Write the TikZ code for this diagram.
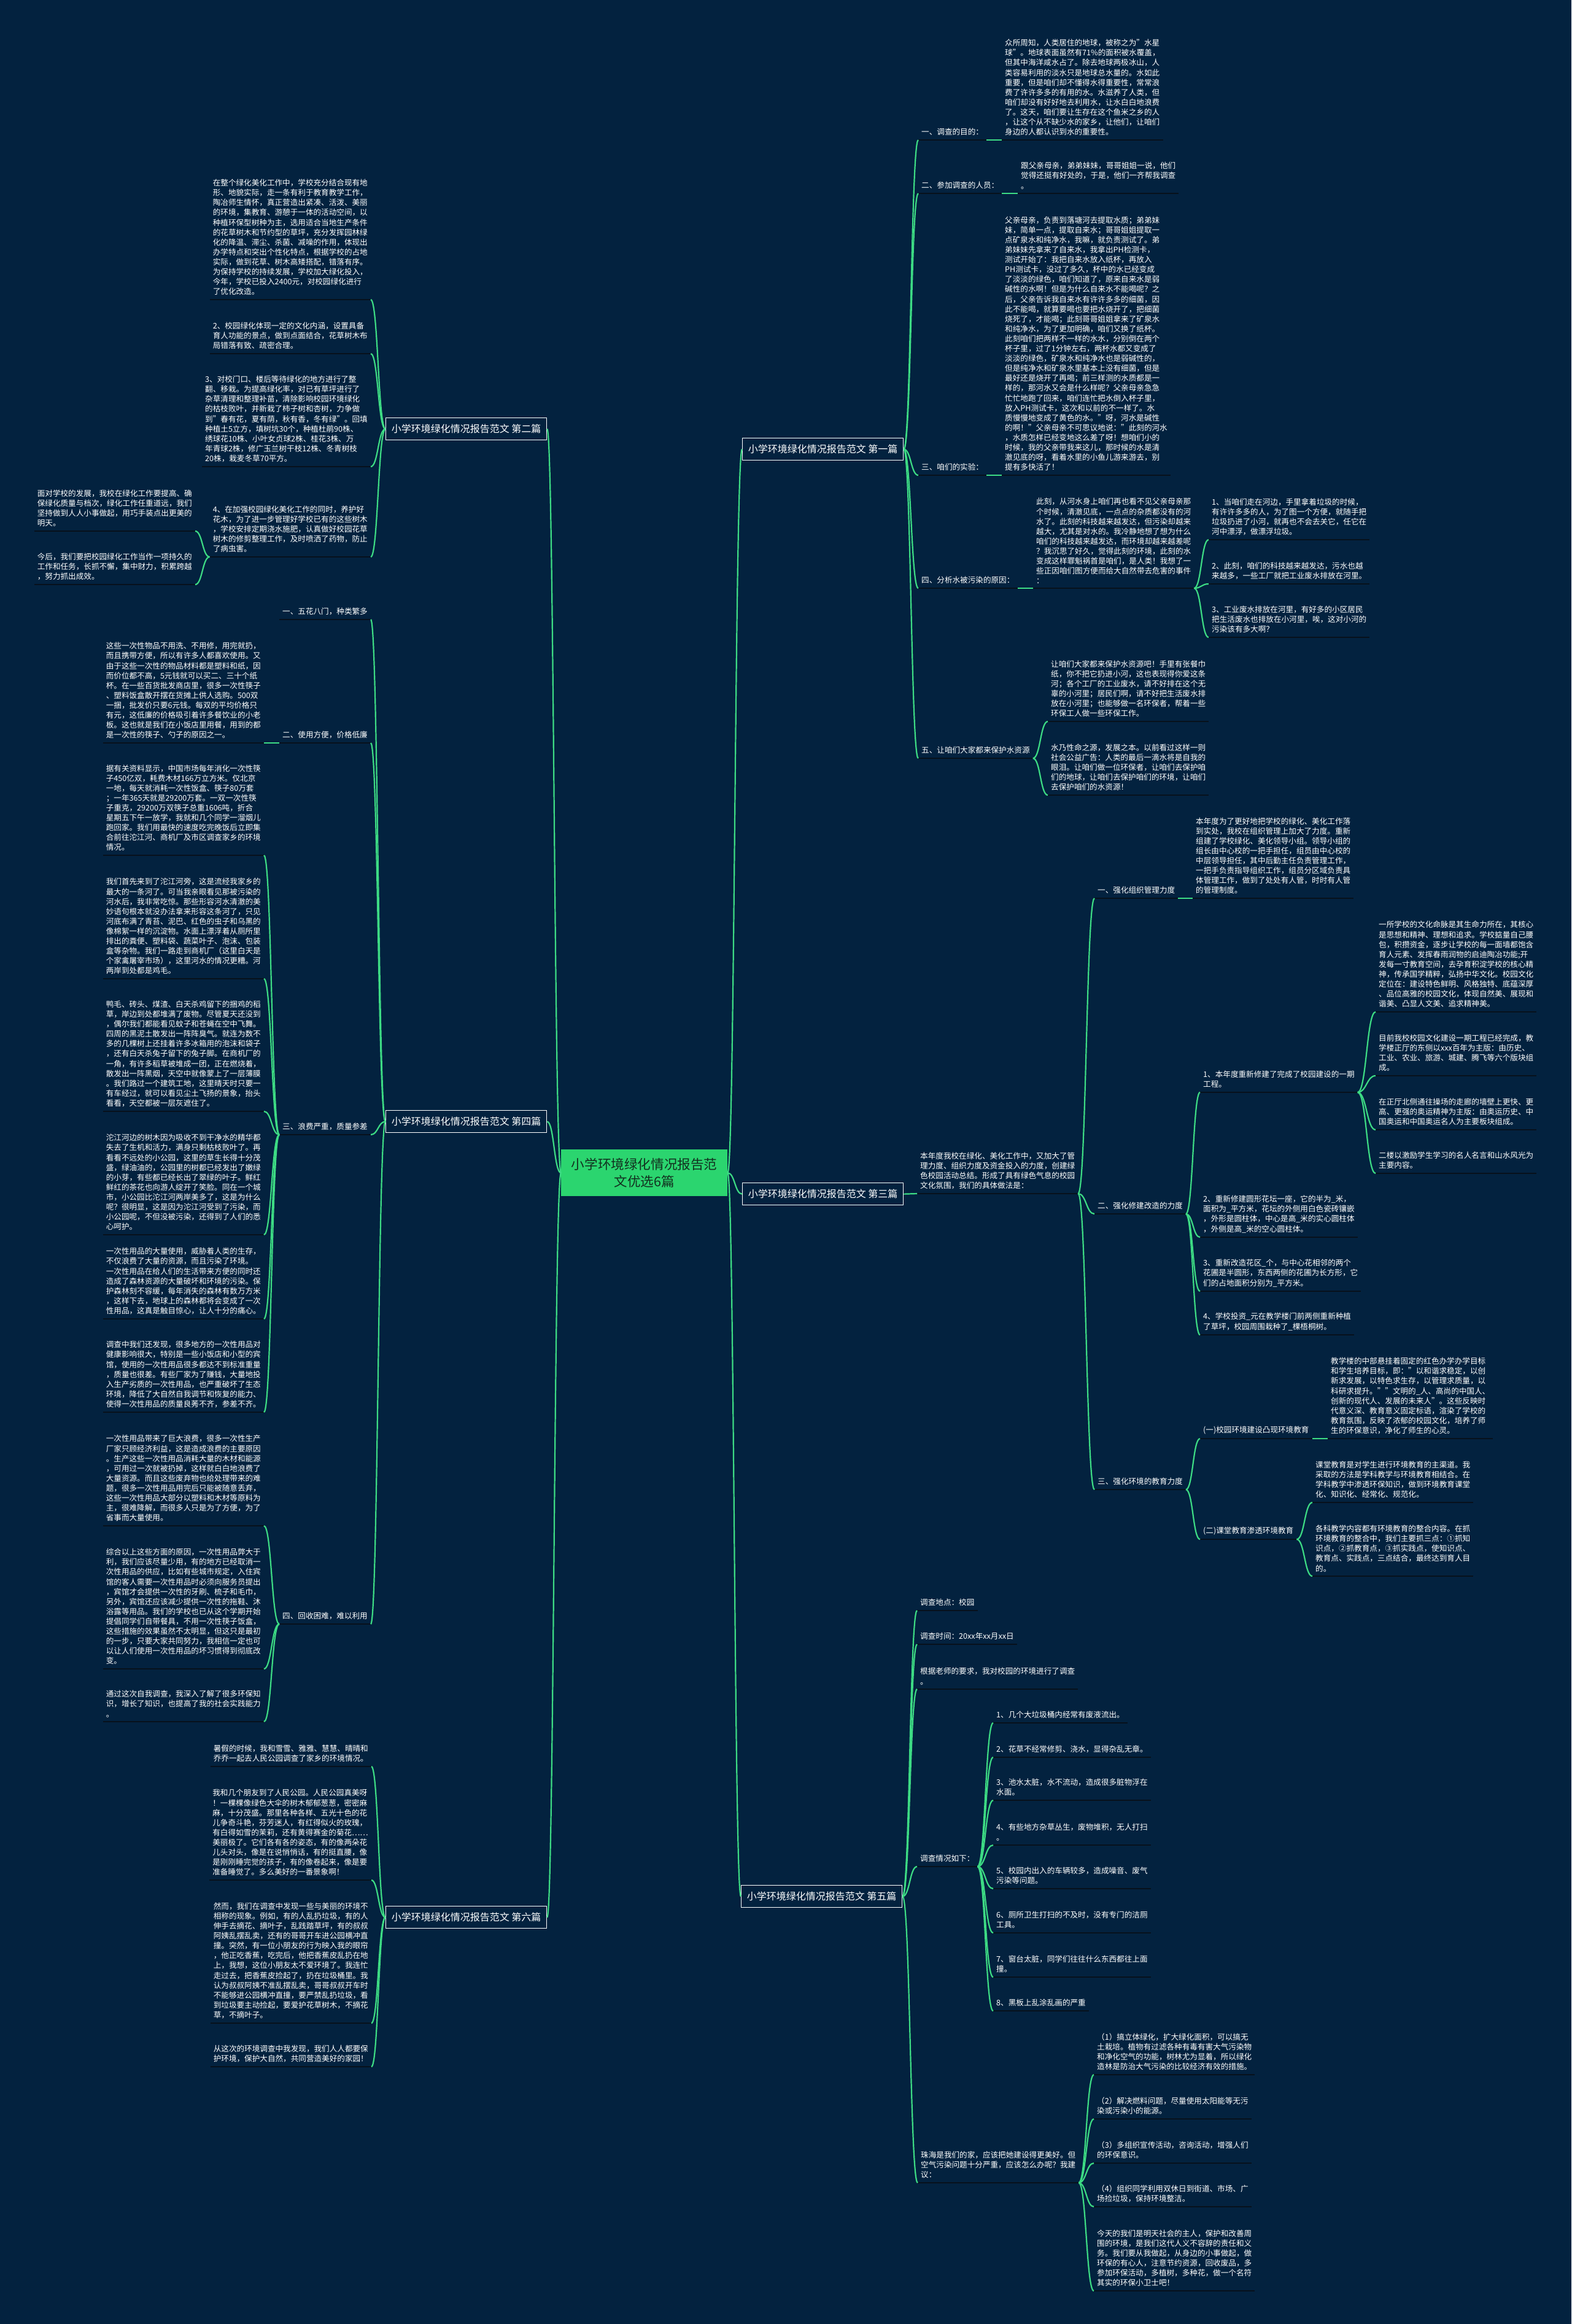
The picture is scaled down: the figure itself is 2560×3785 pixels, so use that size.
\documentclass[tikz,border=0pt]{standalone}
\usepackage{fontspec}
\setmainfont{Noto Sans CJK SC}
\usetikzlibrary{calc}
\definecolor{bg}{HTML}{03223F}
\definecolor{lg}{HTML}{3DDB84}
\definecolor{ul}{HTML}{07111C}
\definecolor{cg}{HTML}{2BD56F}
\definecolor{ct}{HTML}{12301F}
\newcommand\fs{\fontsize{12.6}{16.1}\selectfont}
\newcommand\fbr{\fontsize{16}{19}\selectfont}
\newcommand\fct{\fontsize{21.6}{28}\selectfont}
\newcommand\lnk[2]{\draw[conn] let \p1=(#1), \p2=(#2) in (\p1) .. controls ({(\x1+\x2)/2},\y1) and ({(\x1+\x2)/2},\y2) .. (\p2);}
\begin{document}
\begin{tikzpicture}[x=1pt,y=-1pt,
  conn/.style={draw=lg, line width=2.2pt},
  uline/.style={draw=ul, line width=2.5pt},
  leaf/.style={text=white, font=\fs, align=left, inner xsep=5pt, inner ysep=7pt,
    append after command={(\tikzlastnode.south west) edge[uline] (\tikzlastnode.south east)}},
  rl/.style={leaf, anchor=south west},
  ll/.style={leaf, anchor=south east},
  branch/.style={draw=white, line width=1.3pt, fill=bg, text=white, font=\fbr,
    minimum width=262pt, minimum height=36pt, inner sep=0pt, anchor=north west},
  root/.style={fill=cg, text=ct, font=\fct, align=center, minimum width=271pt,
    minimum height=76pt, inner sep=0pt, anchor=north west}]
\fill[bg] (0,0) rectangle (2560,3785);
\useasboundingbox (0,0) rectangle (2560,3785);

% ---------- root and branches ----------
\node[root] (root) at (914,1872) {小学环境绿化情况报告范\\文优选6篇};
\node[branch] (b1) at (1209,713) {小学环境绿化情况报告范文 第一篇};
\node[branch] (b2) at (628,680) {小学环境绿化情况报告范文 第二篇};
\node[branch] (b3) at (1209,1926) {小学环境绿化情况报告范文 第三篇};
\node[branch] (b4) at (628,1808) {小学环境绿化情况报告范文 第四篇};
\node[branch] (b5) at (1207,3070) {小学环境绿化情况报告范文 第五篇};
\node[branch] (b6) at (628,3104) {小学环境绿化情况报告范文 第六篇};

% ---------- 第一篇 ----------
\node[rl] (a1) at (1496,228) {一、调查的目的：};
\node[rl] (a1p) at (1632,228) {众所周知，人类居住的地球，被称之为"水星\\
球"。地球表面虽然有71\%的面积被水覆盖，\\
但其中海洋咸水占了。除去地球两极冰山，人\\
类容易利用的淡水只是地球总水量的。水如此\\
重要，但是咱们却不懂得水得重要性，常常浪\\
费了许许多多的有用的水。水滋养了人类，但\\
咱们却没有好好地去利用水，让水白白地浪费\\
了。这天，咱们要让生存在这个鱼米之乡的人\\
，让这个从不缺少水的家乡，让他们，让咱们\\
身边的人都认识到水的重要性。};
\node[rl] (a2) at (1496,315) {二、参加调查的人员：};
\node[rl] (a2p) at (1658,315) {跟父亲母亲，弟弟妹妹，哥哥姐姐一说，他们\\
觉得还挺有好处的，于是，他们一齐帮我调查\\
。};
\node[rl] (a3) at (1496,774) {三、咱们的实验：};
\node[rl] (a3p) at (1632,774) {父亲母亲，负责到落塘河去提取水质；弟弟妹\\
妹，简单一点，提取自来水；哥哥姐姐提取一\\
点矿泉水和纯净水，我嘛，就负责测试了。弟\\
弟妹妹先拿来了自来水，我拿出PH检测卡，\\
测试开始了：我把自来水放入纸杯，再放入\\
PH测试卡，没过了多久，杯中的水已经变成\\
了淡淡的绿色，咱们知道了，原来自来水是弱\\
碱性的水啊！但是为什么自来水不能喝呢？之\\
后，父亲告诉我自来水有许许多多的细菌，因\\
此不能喝，就算要喝也要把水烧开了，把细菌\\
烧死了，才能喝；此刻哥哥姐姐拿来了矿泉水\\
和纯净水，为了更加明确，咱们又换了纸杯。\\
此刻咱们把两样不一样的水水，分别倒在两个\\
杯子里，过了1分钟左右，两杯水都又变成了\\
淡淡的绿色，矿泉水和纯净水也是弱碱性的，\\
但是纯净水和矿泉水里基本上没有细菌，但是\\
最好还是烧开了再喝；前三样测的水质都是一\\
样的，那河水又会是什么样呢？父亲母亲急急\\
忙忙地跑了回来，咱们连忙把水倒入杯子里，\\
放入PH测试卡，这次和以前的不一样了。水\\
质慢慢地变成了黄色的水。"呀，河水是碱性\\
的啊！"父亲母亲不可思议地说："此刻的河水\\
，水质怎样已经变地这么差了呀！想咱们小的\\
时候，我的父亲带我来这儿，那时候的水是清\\
澈见底的呀，看着水里的小鱼儿游来游去，别\\
提有多快活了！};
\node[rl] (a4) at (1496,958) {四、分析水被污染的原因：};
\node[rl] (a4p) at (1683,958) {此刻，从河水身上咱们再也看不见父亲母亲那\\
个时候，清澈见底，一点点的杂质都没有的河\\
水了。此刻的科技越来越发达，但污染却越来\\
越大，尤其是对水的。我冷静地想了想为什么\\
咱们的科技越来越发达，而环境却越来越差呢\\
？我沉思了好久，觉得此刻的环境，此刻的水\\
变成这样罪魁祸首是咱们，是人类！我想了一\\
些正因咱们图方便而给大自然带去危害的事件\\
：};
\node[rl] (a4a) at (1969,879) {1、当咱们走在河边，手里拿着垃圾的时候，\\
有许许多多的人，为了图一个方便，就随手把\\
垃圾扔进了小河，就再也不会去关它，任它在\\
河中漂浮，做漂浮垃圾。};
\node[rl] (a4b) at (1969,951) {2、此刻，咱们的科技越来越发达，污水也越\\
来越多，一些工厂就把工业废水排放在河里。};
\node[rl] (a4c) at (1969,1038) {3、工业废水排放在河里，有好多的小区居民\\
把生活废水也排放在小河里，唉，这对小河的\\
污染该有多大啊？};
\node[rl] (a5) at (1496,1235) {五、让咱们大家都来保护水资源};
\node[rl] (a5a) at (1707,1175) {让咱们大家都来保护水资源吧！手里有张餐巾\\
纸，你不把它扔进小河，这也表现得你爱这条\\
河；各个工厂的工业废水，请不好排在这个无\\
辜的小河里；居民们啊，请不好把生活废水排\\
放在小河里；也能够做一名环保者，帮着一些\\
环保工人做一些环保工作。};
\node[rl] (a5b) at (1707,1295) {水乃性命之源，发展之本。以前看过这样一则\\
社会公益广告：人类的最后一滴水将是自我的\\
眼泪。让咱们做一位环保者，让咱们去保护咱\\
们的地球，让咱们去保护咱们的环境，让咱们\\
去保护咱们的水资源！};

% ---------- 第三篇 ----------
\node[rl] (c0) at (1494,1944) {本年度我校在绿化、美化工作中，又加大了管\\
理力度、组织力度及资金投入的力度，创建绿\\
色校园活动总结。形成了具有绿色气息的校园\\
文化氛围，我们的具体做法是：};
\node[rl] (c1) at (1783,1463) {一、强化组织管理力度};
\node[rl] (c1p) at (1943,1463) {本年度为了更好地把学校的绿化、美化工作落\\
到实处，我校在组织管理上加大了力度。重新\\
组建了学校绿化、美化领导小组。领导小组的\\
组长由中心校的一把手担任，组员由中心校的\\
中层领导担任，其中后勤主任负责管理工作，\\
一把手负责指导组织工作，组员分区域负责具\\
体管理工作，做到了处处有人管，时时有人管\\
的管理制度。};
\node[rl] (c2) at (1783,1977) {二、强化修建改造的力度};
\node[rl] (c21) at (1955,1779) {1、本年度重新修建了完成了校园建设的一期\\
工程。};
\node[rl] (c21a) at (2241,1648) {一所学校的文化命脉是其生命力所在，其核心\\
是思想和精神、理想和追求。学校掂量自己腰\\
包，积攒资金，逐步让学校的每一面墙都饱含\\
育人元素、发挥春雨润物的启迪陶冶功能;开\\
发每一寸教育空间，去孕育积淀学校的核心精\\
神，传承国学精粹，弘扬中华文化。校园文化\\
定位在：建设特色鲜明、风格独特、底蕴深厚\\
、品位高雅的校园文化，体现自然美、展现和\\
谐美、凸显人文美、追求精神美。};
\node[rl] (c21b) at (2241,1752) {目前我校校园文化建设一期工程已经完成，教\\
学楼正厅的东侧以xxx百年为主版：由历史、\\
工业、农业、旅游、城建、腾飞等六个版块组\\
成。};
\node[rl] (c21c) at (2241,1840) {在正厅北侧通往操场的走廊的墙壁上更快、更\\
高、更强的奥运精神为主版：由奥运历史、中\\
国奥运和中国奥运名人为主要板块组成。};
\node[rl] (c21d) at (2241,1911) {二楼以激励学生学习的名人名言和山水风光为\\
主要内容。};
\node[rl] (c22) at (1955,2015) {2、重新修建圆形花坛一座，它的半为\_米，\\
面积为\_平方米，花坛的外侧用白色瓷砖镶嵌\\
，外形是圆柱体，中心是高\_米的实心圆柱体\\
，外侧是高\_米的空心圆柱体。};
\node[rl] (c23) at (1955,2103) {3、重新改造花区\_个，与中心花相邻的两个\\
花圃是半圆形，东西两侧的花圃为长方形，它\\
们的占地面积分别为\_平方米。};
\node[rl] (c24) at (1955,2174) {4、学校投资\_元在教学楼门前两侧重新种植\\
了草坪，校园周围栽种了\_棵梧桐树。};
\node[rl] (c3) at (1783,2426) {三、强化环境的教育力度};
\node[rl] (c31) at (1955,2343) {(一)校园环境建设凸现环境教育};
\node[rl] (c31p) at (2163,2343) {教学楼的中部悬挂着固定的红色办学办学目标\\
和学生培养目标，即："以和谐求稳定，以创\\
新求发展，以特色求生存，以管理求质量，以\\
科研求提升。""文明的\_人、高尚的中国人、\\
创新的现代人、发展的未来人"。这些反映时\\
代意义深、教育意义固定标语，渲染了学校的\\
教育氛围，反映了浓郁的校园文化，培养了师\\
生的环保意识，净化了师生的心灵。};
\node[rl] (c32) at (1955,2507) {(二)课堂教育渗透环境教育};
\node[rl] (c32a) at (2138,2447) {课堂教育是对学生进行环境教育的主渠道。我\\
采取的方法是学科教学与环境教育相结合。在\\
学科教学中渗透环保知识，做到环境教育课堂\\
化、知识化、经常化、规范化。};
\node[rl] (c32b) at (2138,2567) {各科教学内容都有环境教育的整合内容。在抓\\
环境教育的整合中，我们主要抓三点：①抓知\\
识点，②抓教育点，③抓实践点，使知识点、\\
教育点、实践点，三点结合，最终达到育人目\\
的。};

% ---------- 第五篇 ----------
\node[rl] (e1) at (1494,2623) {调查地点：校园};
\node[rl] (e2) at (1494,2678) {调查时间：20xx年xx月xx日};
\node[rl] (e3) at (1494,2751) {根据老师的要求，我对校园的环境进行了调查\\
。};
\node[rl] (e4) at (1494,3040) {调查情况如下：};
\node[rl] (e41) at (1618,2806) {1、几个大垃圾桶内经常有废液流出。};
\node[rl] (e42) at (1618,2862) {2、花草不经常修剪、浇水，显得杂乱无章。};
\node[rl] (e43) at (1618,2932) {3、池水太脏，水不流动，造成很多脏物浮在\\
水面。};
\node[rl] (e44) at (1618,3005) {4、有些地方杂草丛生，废物堆积，无人打扫\\
。};
\node[rl] (e45) at (1618,3076) {5、校园内出入的车辆较多，造成噪音、废气\\
污染等问题。};
\node[rl] (e46) at (1618,3148) {6、厕所卫生打扫的不及时，没有专门的洁厕\\
工具。};
\node[rl] (e47) at (1618,3220) {7、窗台太脏，同学们往往什么东西都往上面\\
撞。};
\node[rl] (e48) at (1618,3275) {8、黑板上乱涂乱画的严重};
\node[rl] (e5) at (1495,3555) {珠海是我们的家，应该把她建设得更美好。但\\
空气污染问题十分严重，应该怎么办呢？我建\\
议：};
\node[rl] (e51) at (1782,3379) {（1）搞立体绿化，扩大绿化面积，可以搞无\\
土栽培。植物有过滤各种有毒有害大气污染物\\
和净化空气的功能，树林尤为显着，所以绿化\\
造林是防治大气污染的比较经济有效的措施。};
\node[rl] (e52) at (1782,3451) {（2）解决燃料问题，尽量使用太阳能等无污\\
染或污染小的能源。};
\node[rl] (e53) at (1782,3523) {（3）多组织宣传活动，咨询活动，增强人们\\
的环保意识。};
\node[rl] (e54) at (1782,3594) {（4）组织同学利用双休日到街道、市场、广\\
场捡垃圾，保持环境整洁。};
\node[rl] (e55) at (1782,3731) {今天的我们是明天社会的主人，保护和改善周\\
围的环境，是我们这代人义不容辞的责任和义\\
务。我们要从我做起，从身边的小事做起，做\\
环保的有心人，注意节约资源，回收废品，多\\
参加环保活动，多植树，多种花，做一个名符\\
其实的环保小卫士吧！};

% ---------- 第二篇 ----------
\node[ll] (d1) at (604,488) {在整个绿化美化工作中，学校充分结合现有地\\
形、地貌实际，走一条有利于教育教学工作，\\
陶冶师生情怀，真正营造出紧凑、活泼、美丽\\
的环境，集教育、游憩于一体的活动空间，以\\
种植环保型树种为主，选用适合当地生产条件\\
的花草树木和节约型的草坪，充分发挥园林绿\\
化的降温、滞尘、杀菌、减噪的作用，体现出\\
办学特点和突出个性化特点，根据学校的占地\\
实际，做到花草、树木高矮搭配，错落有序。\\
为保持学校的持续发展，学校加大绿化投入，\\
今年，学校已投入2400元，对校园绿化进行\\
了优化改造。};
\node[ll] (d2) at (604,576) {2、校园绿化体现一定的文化内涵，设置具备\\
育人功能的景点，做到点面结合，花草树木布\\
局错落有致、疏密合理。};
\node[ll] (d3) at (604,760) {3、对校门口、楼后等待绿化的地方进行了整\\
翻、移栽。为提高绿化率，对已有草坪进行了\\
杂草清理和整理补苗，清除影响校园环境绿化\\
的枯枝败叶，并新栽了柿子树和杏树，力争做\\
到"春有花，夏有荫，秋有香，冬有绿"。回填\\
种植土5立方，填树坑30个，种植杜鹃90株、\\
绣球花10株、小叶女贞球2株、桂花3株、万\\
年青球2株，修广玉兰树干枝12株、冬青树枝\\
20株，栽麦冬草70平方。};
\node[ll] (d4) at (604,907) {4、在加强校园绿化美化工作的同时，养护好\\
花木，为了进一步管理好学校已有的这些树木\\
，学校安排定期浇水施肥，认真做好校园花草\\
树木的修剪整理工作，及时喷洒了药物，防止\\
了病虫害。};
\node[ll] (d41) at (318,865) {面对学校的发展，我校在绿化工作要提高、确\\
保绿化质量与档次，绿化工作任重道远，我们\\
坚持做到人人小事做起，用巧手装点出更美的\\
明天。};
\node[ll] (d42) at (318,952) {今后，我们要把校园绿化工作当作一项持久的\\
工作和任务，长抓不懈，集中财力，积累跨越\\
，努力抓出成效。};

% ---------- 第四篇 ----------
\node[ll] (f1) at (604,1009) {一、五花八门，种类繁多};
\node[ll] (f2) at (604,1210) {二、使用方便，价格低廉};
\node[ll] (f3) at (604,1848) {三、浪费严重，质量参差};
\node[ll] (f4) at (604,2645) {四、回收困难，难以利用};
\node[ll] (f2p) at (430,1210) {这些一次性物品不用洗、不用修，用完就扔，\\
而且携带方便，所以有许多人都喜欢使用。又\\
由于这些一次性的物品材料都是塑料和纸，因\\
而价位都不高，5元钱就可以买二、三十个纸\\
杯。在一些百货批发商店里，很多一次性筷子\\
、塑料饭盒散开摆在货摊上供人选购。500双\\
一捆，批发价只要6元钱。每双的平均价格只\\
有元，这低廉的价格吸引着许多餐饮业的小老\\
板。这也就是我们在小饭店里用餐，用到的都\\
是一次性的筷子、勺子的原因之一。};
\node[ll] (f31) at (430,1393) {据有关资料显示，中国市场每年消化一次性筷\\
子450亿双，耗费木材166万立方米。仅北京\\
一地，每天就消耗一次性饭盒、筷子80万套\\
；一年365天就是29200万套。一双一次性筷\\
子重克，29200万双筷子总重1606吨，折合\\
星期五下午一放学，我就和几个同学一溜烟儿\\
跑回家。我们用最快的速度吃完晚饭后立即集\\
合前往沱江河、商机厂及市区调查家乡的环境\\
情况。};
\node[ll] (f32) at (430,1594) {我们首先来到了沱江河旁，这是流经我家乡的\\
最大的一条河了。可当我亲眼看见那被污染的\\
河水后，我非常吃惊。那些形容河水清澈的美\\
妙语句根本就没办法拿来形容这条河了，只见\\
河底布满了青苔、泥巴、红色的虫子和乌黑的\\
像棉絮一样的沉淀物。水面上漂浮着从厕所里\\
排出的粪便、塑料袋、蔬菜叶子、泡沫、包装\\
盒等杂物。我们一路走到商机厂（这里白天是\\
个家禽屠宰市场），这里河水的情况更糟。河\\
两岸到处都是鸡毛。};
\node[ll] (f33) at (430,1810) {鸭毛、砖头、煤渣、白天杀鸡留下的捆鸡的稻\\
草，岸边到处都堆满了废物。尽管夏天还没到\\
，偶尔我们都能看见蚊子和苍蝇在空中飞舞。\\
四周的黑泥土散发出一阵阵臭气。就连为数不\\
多的几棵树上还挂着许多冰箱用的泡沫和袋子\\
，还有白天杀兔子留下的兔子脚。在商机厂的\\
一角，有许多稻草被堆成一团，正在燃烧着，\\
散发出一阵黑烟，天空中就像蒙上了一层薄膜\\
。我们路过一个建筑工地，这里晴天时只要一\\
有车经过，就可以看见尘土飞扬的景象，抬头\\
看看，天空都被一层灰遮住了。};
\node[ll] (f34) at (430,2011) {沱江河边的树木因为吸收不到干净水的精华都\\
失去了生机和活力，满身只剩枯枝败叶了。再\\
看看不远处的小公园，这里的草生长得十分茂\\
盛，绿油油的，公园里的树都已经发出了嫩绿\\
的小芽，有些都已经长出了翠绿的叶子。鲜红\\
鲜红的茶花也向游人绽开了笑脸。同在一个城\\
市，小公园比沱江河两岸美多了，这是为什么\\
呢？很明显，这是因为沱江河受到了污染，而\\
小公园呢，不但没被污染，还得到了人们的悉\\
心呵护。};
\node[ll] (f35) at (430,2148) {一次性用品的大量使用，威胁着人类的生存，\\
不仅浪费了大量的资源，而且污染了环境。\\
一次性用品在给人们的生活带来方便的同时还\\
造成了森林资源的大量破坏和环境的污染。保\\
护森林刻不容缓，每年消失的森林有数万方米\\
，这样下去，地球上的森林都将会变成了一次\\
性用品，这真是触目惊心，让人十分的痛心。};
\node[ll] (f36) at (430,2300) {调查中我们还发现，很多地方的一次性用品对\\
健康影响很大，特别是一些小饭店和小型的宾\\
馆，使用的一次性用品很多都达不到标准重量\\
，质量也很差。有些厂家为了赚钱，大量地投\\
入生产劣质的一次性用品，也严重破坏了生态\\
环境，降低了大自然自我调节和恢复的能力、\\
使得一次性用品的质量良莠不齐，参差不齐。};
\node[ll] (f41) at (430,2485) {一次性用品带来了巨大浪费，很多一次性生产\\
厂家只顾经济利益，这是造成浪费的主要原因\\
。生产这些一次性用品消耗大量的木材和能源\\
，可用过一次就被扔掉，这样就白白地浪费了\\
大量资源。而且这些废弃物也给处理带来的难\\
题，很多一次性用品用完后只能被随意丢弃，\\
这些一次性用品大部分以塑料和木材等原料为\\
主，很难降解，而很多人只是为了方便，为了\\
省事而大量使用。};
\node[ll] (f42) at (430,2718) {综合以上这些方面的原因，一次性用品弊大于\\
利，我们应该尽量少用，有的地方已经取消一\\
次性用品的供应，比如有些城市规定，入住宾\\
馆的客人需要一次性用品时必须向服务员提出\\
，宾馆才会提供一次性的牙刷、梳子和毛巾，\\
另外，宾馆还应该减少提供一次性的拖鞋、沐\\
浴露等用品。我们的学校也已从这个学期开始\\
提倡同学们自带餐具，不用一次性筷子饭盒，\\
这些措施的效果虽然不太明显，但这只是最初\\
的一步，只要大家共同努力，我相信一定也可\\
以让人们使用一次性用品的坏习惯得到彻底改\\
变。};
\node[ll] (f43) at (430,2804) {通过这次自我调查，我深入了解了很多环保知\\
识，增长了知识，也提高了我的社会实践能力\\
。};

% ---------- 第六篇 ----------
\node[ll] (g1) at (605,2877) {暑假的时候，我和雪雪、雅雅、慧慧、晴晴和\\
乔乔一起去人民公园调查了家乡的环境情况。};
\node[ll] (g2) at (605,3062) {我和几个朋友到了人民公园。人民公园真美呀\\
！一棵棵像绿色大伞的树木郁郁葱葱，密密麻\\
麻，十分茂盛。那里各种各样、五光十色的花\\
儿争奇斗艳，芬芳迷人，有红得似火的玫瑰，\\
有白得如雪的茉莉，还有黄得赛金的菊花……\\
美丽极了。它们各有各的姿态，有的像两朵花\\
儿头对头，像是在说悄悄话，有的挺直腰，像\\
是刚刚睡完觉的孩子，有的像卷起来，像是要\\
准备睡觉了。多么美好的一番景象啊！};
\node[ll] (g3) at (605,3295) {然而，我们在调查中发现一些与美丽的环境不\\
相称的现象。例如，有的人乱扔垃圾，有的人\\
伸手去摘花、摘叶子，乱践踏草坪，有的叔叔\\
阿姨乱摆乱卖，还有的哥哥开车进公园横冲直\\
撞。突然，有一位小朋友的行为映入我的眼帘\\
，他正吃香蕉，吃完后，他把香蕉皮乱扔在地\\
上，我想，这位小朋友太不爱环境了。我连忙\\
走过去，把香蕉皮捡起了，扔在垃圾桶里。我\\
认为叔叔阿姨不准乱摆乱卖，哥哥叔叔开车时\\
不能够进公园横冲直撞，要严禁乱扔垃圾，看\\
到垃圾要主动捡起，要爱护花草树木，不摘花\\
草，不摘叶子。};
\node[ll] (g4) at (605,3366) {从这次的环境调查中我发现，我们人人都要保\\
护环境，保护大自然，共同营造美好的家园！};

% ---------- connectors ----------
\lnk{root.west}{b2.east}
\lnk{root.west}{b4.east}
\lnk{root.west}{b6.east}
\lnk{root.east}{b1.west}
\lnk{root.east}{b3.west}
\lnk{root.east}{b5.west}

\foreach \k in {a1,a2,a3,a4,a5} {\lnk{b1.east}{\k.south west}}
\foreach \k in {a1,a2,a3,a4} {\draw[conn] (\k.south east) -- (\k p.south west);}
\foreach \k in {a4a,a4b,a4c} {\lnk{a4p.south east}{\k.south west}}
\foreach \k in {a5a,a5b} {\lnk{a5.south east}{\k.south west}}

\draw[conn] (b3.east) -- (c0.south west);
\foreach \k in {c1,c2,c3} {\lnk{c0.south east}{\k.south west}}
\draw[conn] (c1.south east) -- (c1p.south west);
\foreach \k in {c21,c22,c23,c24} {\lnk{c2.south east}{\k.south west}}
\foreach \k in {c21a,c21b,c21c,c21d} {\lnk{c21.south east}{\k.south west}}
\foreach \k in {c31,c32} {\lnk{c3.south east}{\k.south west}}
\draw[conn] (c31.south east) -- (c31p.south west);
\foreach \k in {c32a,c32b} {\lnk{c32.south east}{\k.south west}}

\foreach \k in {e1,e2,e3,e4,e5} {\lnk{b5.east}{\k.south west}}
\foreach \k in {e41,e42,e43,e44,e45,e46,e47,e48} {\lnk{e4.south east}{\k.south west}}
\foreach \k in {e51,e52,e53,e54,e55} {\lnk{e5.south east}{\k.south west}}

\foreach \k in {d1,d2,d3,d4} {\lnk{b2.west}{\k.south east}}
\foreach \k in {d41,d42} {\lnk{d4.south west}{\k.south east}}

\foreach \k in {f1,f2,f3,f4} {\lnk{b4.west}{\k.south east}}
\draw[conn] (f2.south west) -- (f2p.south east);
\foreach \k in {f31,f32,f33,f34,f35,f36} {\lnk{f3.south west}{\k.south east}}
\foreach \k in {f41,f42,f43} {\lnk{f4.south west}{\k.south east}}

\foreach \k in {g1,g2,g3,g4} {\lnk{b6.west}{\k.south east}}
\end{tikzpicture}
\end{document}
